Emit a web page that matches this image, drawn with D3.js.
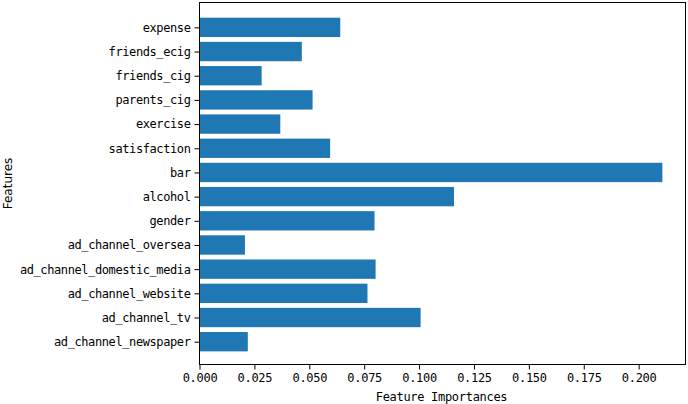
<!DOCTYPE html>
<html>
<head>
  <meta charset="utf-8">
  <title>Feature Importances</title>
  <style>
  body { margin: 0; background: #fff; }
  svg text { fill: #000; }
  </style>
</head>
<body>
  <svg width="688" height="404"></svg>
  <script src="https://d3js.org/d3.v7.min.js"></script>
  <script>
    // features listed bottom -> top, as plotted
    var features = ["ad_channel_newspaper", "ad_channel_tv", "ad_channel_website", "ad_channel_domestic_media",
      "ad_channel_oversea", "gender", "alcohol", "bar", "satisfaction", "exercise",
      "parents_cig", "friends_cig", "friends_ecig", "expense"];
    var importances = [0.0220, 0.1007, 0.0765, 0.0802, 0.0207, 0.0797, 0.1159, 0.2108, 0.0595, 0.0368,
      0.0515, 0.0283, 0.0466, 0.0641];
    var xTicks = [0, 0.025, 0.05, 0.075, 0.1, 0.125, 0.15, 0.175, 0.2];

    var plotLeft = 199.5, plotRight = 685.5, plotTop = 2.5, plotBottom = 364.5;
    var monoFont = "'DejaVu Sans Mono', monospace";

    var xScale = d3.scaleLinear()
      .domain([0, d3.max(importances) * 1.05])
      .range([plotLeft, plotRight]);
    // category index -> y, newspaper at bottom
    var step = 24.18;
    var yScale = d3.scaleLinear()
      .domain([0, features.length - 1])
      .range([341.7, 341.7 - step * (features.length - 1)]);

    var svg = d3.select("svg");

    svg.append("g")
      .selectAll("rect")
      .data(importances)
      .enter()
      .append("rect")
      .attr("x", xScale(0))
      .attr("y", (d, i) => yScale(i) - step * 0.4)
      .attr("width", d => xScale(d) - xScale(0))
      .attr("height", step * 0.8)
      .attr("fill", "#1f77b4");

    // frame
    svg.append("rect")
      .attr("x", plotLeft).attr("y", plotTop)
      .attr("width", plotRight - plotLeft).attr("height", plotBottom - plotTop)
      .attr("fill", "none")
      .attr("stroke", "#000")
      .attr("stroke-width", 1);

    var xAxis = d3.axisBottom(xScale)
      .tickValues(xTicks)
      .tickSize(5)
      .tickPadding(4)
      .tickFormat(d3.format(".3f"));
    var gx = svg.append("g")
      .attr("transform", "translate(0," + plotBottom + ")")
      .call(xAxis);
    gx.select(".domain").remove();
    gx.selectAll("text")
      .style("font-family", monoFont)
      .style("font-size", "12px")
      .style("letter-spacing", "-0.3px");

    var yAxis = d3.axisLeft(yScale)
      .tickValues(d3.range(features.length))
      .tickSize(5)
      .tickPadding(4)
      .tickFormat(i => features[i]);
    var gy = svg.append("g")
      .attr("transform", "translate(" + plotLeft + ",0)")
      .call(yAxis);
    gy.select(".domain").remove();
    gy.selectAll("text")
      .style("font-family", monoFont)
      .style("font-size", "12px")
      .style("letter-spacing", "-0.4px");

    svg.append("text")
      .attr("x", (plotLeft + plotRight) / 2 - 1)
      .attr("y", 401)
      .attr("text-anchor", "middle")
      .style("font-family", monoFont)
      .style("font-size", "12px")
      .style("letter-spacing", "-0.3px")
      .text("Feature Importances");

    svg.append("text")
      .attr("transform", "translate(12," + ((plotTop + plotBottom) / 2) + ") rotate(-90)")
      .attr("text-anchor", "middle")
      .style("font-family", "'DejaVu Sans', sans-serif")
      .style("font-size", "12px")
      .text("Features");
  </script>
</body>
</html>
